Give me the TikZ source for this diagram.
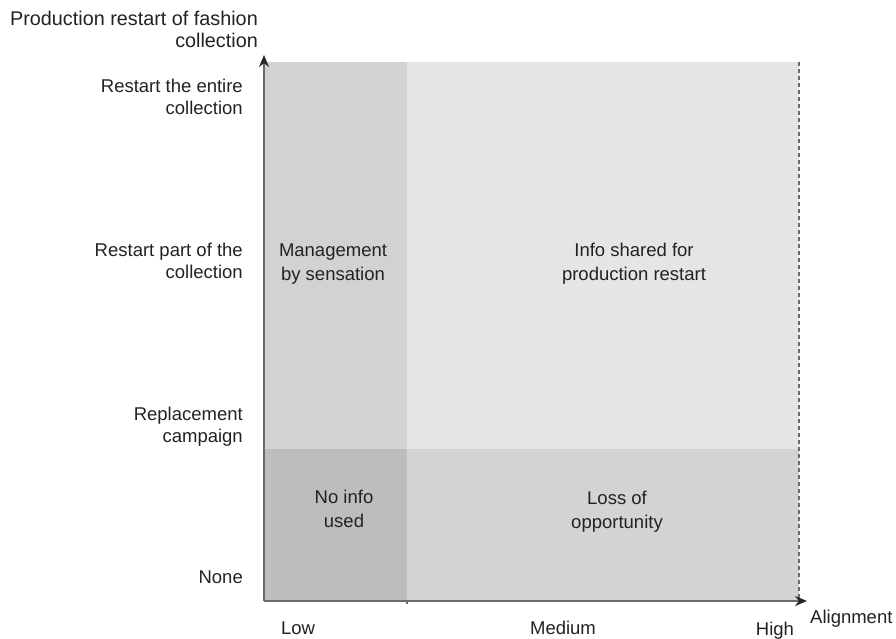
\documentclass[tikz,border=0pt]{standalone}
\usepackage{fontspec}
\setmainfont{Liberation Sans}
\usetikzlibrary{arrows.meta}
\definecolor{cellA}{HTML}{D1D2D4}
\definecolor{cellB}{HTML}{E4E5E6}
\definecolor{cellC}{HTML}{BCBDBF}
\definecolor{cellD}{HTML}{D2D3D5}
\definecolor{axisgray}{HTML}{6A6A6A}
\definecolor{txt}{HTML}{222222}
\begin{document}
\begin{tikzpicture}[
		x=1pt,y=-1pt,
		>={Stealth[length=12pt,width=10pt,color=black!85]},
		every node/.style={inner sep=0pt,text=txt,font=\fontsize{18.5}{22}\selectfont},
		ticklabel/.style={anchor=base east,align=right},
		celllabel/.style={anchor=base,align=center,font=\fontsize{18.5}{23.5}\selectfont},
		xlabel/.style={anchor=base},
		axis/.style={->,line width=1.8pt,draw=axisgray}
	]
	\useasboundingbox (0,0) rectangle (896,638);

	% quadrants
	\fill [cellA] (264,62) rectangle (407,449);
	\fill [cellB] (407,62) rectangle (799,449);
	\fill [cellC] (264,449) rectangle (407,601);
	\fill [cellD] (407,449) rectangle (799,601);
	\draw [axisgray,line width=1.2pt,dash pattern=on 4pt off 3pt] (799,62) -- (799,601);

	\coordinate (origin) at (264,601);
	\coordinate (ytip) at (264,55);
	\coordinate (xtip) at (807,601);
	\coordinate (midtick) at (407,601);
	\draw [axis] (origin) -- (ytip);
	\draw [axis] (origin) -- (xtip);
	\draw [axisgray,line width=1.5pt] (midtick) -- ++(0,3);

	% axis titles
	\node [ticklabel,font=\fontsize{19.8}{22}\selectfont] (ytitle) at (258,47) {Production restart of fashion\\collection};
	\node [anchor=base west] (xtitle) at (810,623) {Alignment};

	% y tick labels
	\node [ticklabel] (yentire) at (243,114) {Restart the entire\\collection};
	\node [ticklabel] (ypart) at (243,278) {Restart part of the\\collection};
	\node [ticklabel] (yrepl) at (243,442) {Replacement\\campaign};
	\node [ticklabel] (ynone) at (243,583) {None};

	% x tick labels
	\node [xlabel] (xlow) at (298,634) {Low};
	\node [xlabel] (xmed) at (563,634) {Medium};
	\node [xlabel] (xhigh) at (775,635) {High};

	% cell labels
	\node [celllabel] (mgmt) at (333,280) {Management\\by sensation};
	\node [celllabel] (shared) at (634,280) {Info shared for\\production restart};
	\node [celllabel] (noinfo) at (344,527) {No info\\used};
	\node [celllabel] (loss) at (617,528) {Loss of\\opportunity};
\end{tikzpicture}
\end{document}
